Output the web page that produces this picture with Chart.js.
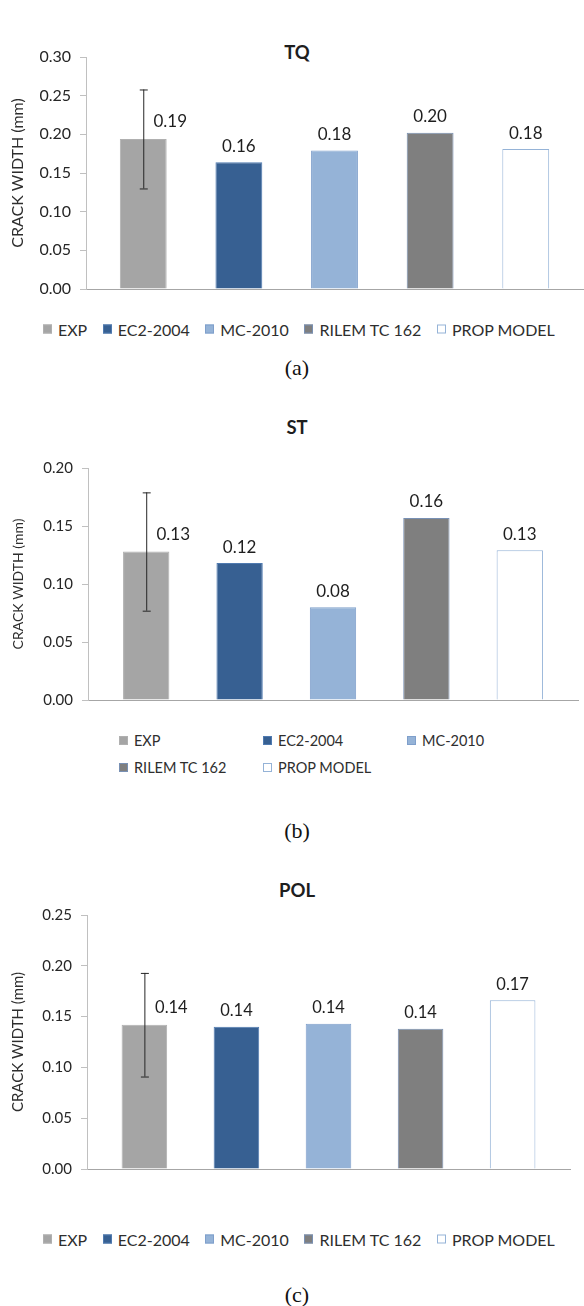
<!DOCTYPE html>
<html>
<head>
<meta charset="utf-8">
<script src="https://cdn.jsdelivr.net/npm/chart.js@4.4.1/dist/chart.umd.min.js"></script>
<style>
  body { margin: 0; background: #fff; }
  #page { position: relative; width: 584px; height: 1306px; overflow: hidden; font-family: Lato, "Open Sans", sans-serif; color: #1e1e1e; }
  .plot { position: absolute; left: 0; width: 584px; }
  .title { position: absolute; left: 0; width: 594px; text-align: center; font-weight: bold; font-size: 18.5px; transform: translateY(-50%); }
  .caption { position: absolute; left: 0; width: 594px; text-align: center; font-family: "Liberation Serif", "DejaVu Serif", serif; font-size: 22px; color: #111; transform: translateY(-50%); }
  .legend { position: absolute; display: flex; align-items: center; transform: translateY(-50%); color: #2e2e2e; white-space: nowrap; }
  .legend .item { display: flex; align-items: center; margin-right: 15.5px; }
  .legend .sw { width: 9px; height: 9px; margin-right: 6px; box-sizing: border-box; }
  .legend.grid { display: grid; grid-template-columns: 144px 144px 144px; row-gap: 10px; }
</style>
</head>
<body>
<div id="page">
  <div class="title" style="top:52px">TQ</div>
  <canvas id="tq" class="plot" style="top:0px" width="584" height="310"></canvas>
  <div id="legTq" class="legend" style="left:43px;top:329px;font-size:16px"></div>
  <div class="caption" style="top:368px">(a)</div>

  <div class="title" style="top:427px">ST</div>
  <canvas id="st" class="plot" style="top:440px" width="584" height="280"></canvas>
  <div id="legSt" class="legend grid" style="left:119px;top:754px;font-size:14.5px"></div>
  <div class="caption" style="top:831px">(b)</div>

  <div class="title" style="top:890px">POL</div>
  <canvas id="pol" class="plot" style="top:890px" width="584" height="300"></canvas>
  <div id="legPol" class="legend" style="left:43px;top:1239px;font-size:16px"></div>
  <div class="caption" style="top:1295px">(c)</div>
</div>
<script>
// series (one bar each)
const series = ['EXP', 'EC2-2004', 'MC-2010', 'RILEM TC 162', 'PROP MODEL'];
const fills = ['#a5a5a5', '#376092', '#95b3d7', '#7f7f7f', '#ffffff'];
const edges = ['#b0b0b0', '#4f7ab0', '#7f9fcb', '#7890b4', '#95b3d7'];

// crack width (mm)
const tqValues = [0.194, 0.164, 0.179, 0.202, 0.181];
const stValues = [0.128, 0.118, 0.080, 0.157, 0.129];
const polValues = [0.142, 0.140, 0.143, 0.138, 0.166];

// error bar on EXP only (+/-)
const tqExpError = 0.064;
const stExpError = 0.051;
const polExpError = 0.051;

// y axis ranges
const tqMax = 0.30;
const stMax = 0.20;
const polMax = 0.25;
const yStep = 0.05;

const yTitle = 'CRACK WIDTH (mm)';

// value labels + error bar
const barLabels = {
  id: 'barLabels',
  afterDatasetsDraw(chart, args, opts) {
    const ctx = chart.ctx;
    const y = chart.scales.y;
    ctx.save();
    chart.data.datasets.forEach((ds, i) => {
      const bar = chart.getDatasetMeta(i).data[0];
      const v = ds.data[0];
      if (ds.err) {
        const top = y.getPixelForValue(v + ds.err);
        const bot = y.getPixelForValue(v - ds.err);
        ctx.strokeStyle = '#262626';
        ctx.lineWidth = 1;
        ctx.beginPath();
        ctx.moveTo(bar.x + 0.5, top); ctx.lineTo(bar.x + 0.5, bot);
        ctx.moveTo(bar.x - 3.5, top + 0.5); ctx.lineTo(bar.x + 4.5, top + 0.5);
        ctx.moveTo(bar.x - 3.5, bot + 0.5); ctx.lineTo(bar.x + 4.5, bot + 0.5);
        ctx.stroke();
      }
      ctx.font = opts.size + 'px Lato';
      ctx.fillStyle = '#1e1e1e';
      ctx.textAlign = 'center';
      ctx.textBaseline = 'middle';
      const dx = ds.err ? 27 : 0;
      const dy = ds.err ? 17.5 : 16;
      ctx.fillText(v.toFixed(2), bar.x + dx, bar.y - dy);
    });
    ctx.restore();
  }
};

function makeChart(id, values, err, yMax, g) {
  const datasets = series.map((name, i) => ({
    label: name,
    data: [values[i]],
    err: i === 0 ? err : 0,
    backgroundColor: fills[i],
    borderColor: edges[i],
    borderWidth: 1,
    categoryPercentage: g.cat,
    barPercentage: g.bar
  }));
  return new Chart(document.getElementById(id), {
    type: 'bar',
    data: { labels: [''], datasets: datasets },
    plugins: [barLabels],
    options: {
      responsive: false,
      animation: false,
      layout: { padding: g.pad },
      plugins: {
        legend: { display: false },
        tooltip: { enabled: false },
        barLabels: { size: g.label }
      },
      scales: {
        x: {
          ticks: { display: false },
          grid: { display: false },
          border: { display: true, color: '#a6a6a6' }
        },
        y: {
          min: 0,
          max: yMax,
          ticks: {
            stepSize: yStep,
            padding: 9,
            color: '#262626',
            font: { family: 'Lato', size: g.tick },
            callback: v => v.toFixed(2)
          },
          grid: { drawOnChartArea: false, tickLength: 6, color: '#c0c0c0' },
          border: { color: '#c0c0c0' },
          title: {
            display: true,
            text: yTitle,
            color: '#2e2e2e',
            font: { family: 'Lato', size: g.ytitle },
            padding: { top: 18 - g.ytitle * 0.6, bottom: 0 }
          },
          afterFit: s => { s.width = g.axisX; }
        }
      }
    }
  });
}

makeChart('tq', tqValues, tqExpError, tqMax,
  { pad: { top: 57, bottom: 13, left: 0, right: 1 }, axisX: 86, cat: 0.962, bar: 0.49, tick: 16, ytitle: 16, label: 17 });
makeChart('st', stValues, stExpError, stMax,
  { pad: { top: 28, bottom: 12, left: 0, right: 6 }, axisX: 88, cat: 0.953, bar: 0.496, tick: 15, ytitle: 14, label: 17 });
makeChart('pol', polValues, polExpError, polMax,
  { pad: { top: 25, bottom: 13, left: 0, right: 14 }, axisX: 87, cat: 0.953, bar: 0.495, tick: 15, ytitle: 15, label: 16.5 });

// html legends from the series arrays
function buildLegend(id) {
  const el = document.getElementById(id);
  series.forEach((name, i) => {
    const item = document.createElement('div');
    item.className = 'item';
    const sw = document.createElement('span');
    sw.className = 'sw';
    sw.style.background = fills[i];
    sw.style.border = '1px solid ' + edges[i];
    const txt = document.createElement('span');
    txt.textContent = name;
    item.appendChild(sw);
    item.appendChild(txt);
    el.appendChild(item);
  });
}
buildLegend('legTq');
buildLegend('legSt');
buildLegend('legPol');
</script>
</body>
</html>
